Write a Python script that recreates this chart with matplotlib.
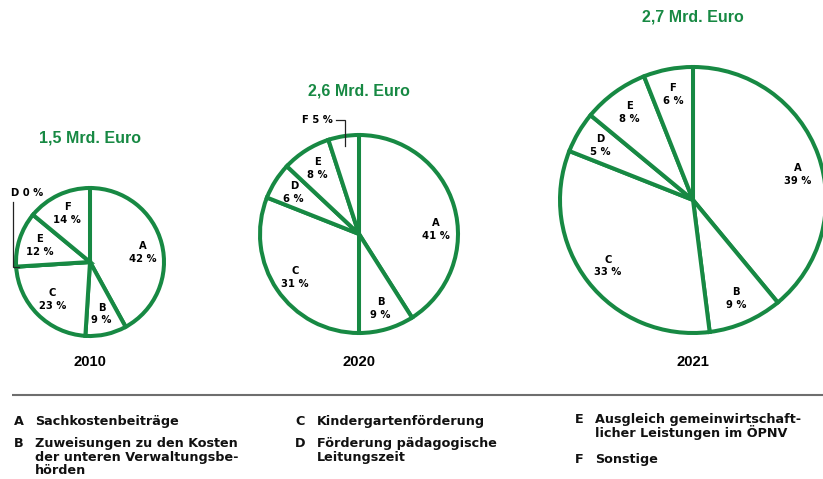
import numpy as np
import matplotlib
matplotlib.use("Agg")
import matplotlib.pyplot as plt

# ---------------- data ----------------
categories = ["A", "B", "C", "D", "E", "F"]
years = ["2010", "2020", "2021"]
totals = ["1,5 Mrd. Euro", "2,6 Mrd. Euro", "2,7 Mrd. Euro"]
shares_2010 = [42, 9, 23, 0, 12, 14]
shares_2020 = [41, 9, 31, 6, 8, 5]
shares_2021 = [39, 9, 33, 5, 8, 6]
legend_labels = [
    "Sachkostenbeiträge",
    "Zuweisungen zu den Kosten\nder unteren Verwaltungsbe-\nhörden",
    "Kindergartenförderung",
    "Förderung pädagogische\nLeitungszeit",
    "Ausgleich gemeinwirtschaft-\nlicher Leistungen im ÖPNV",
    "Sonstige",
]

# ---------------- style / layout ----------------
W, H = 823, 479
GREEN = "#178943"
def Y(py):
    return H - py

pies = [
    dict(vals=shares_2010, cx=90, cy=262, r=74, ldist=0.72, outside={"D"}),
    dict(vals=shares_2020, cx=359, cy=234, r=99, ldist=0.78, outside={"F"}),
    dict(vals=shares_2021, cx=693, cy=200, r=133, ldist=0.81, outside=set()),
]
title_y = [138, 91, 17]
year_y = 362
angle_adj = {(0, "A"): -4, (1, "A"): -13, (2, "A"): -6}

fig = plt.figure(figsize=(W / 100, H / 100), dpi=100)
ax = fig.add_axes([0, 0, 1, 1])

lab_font = dict(family="DejaVu Sans", weight="bold", size=7.2)
for i, p in enumerate(pies):
    wedges, _ = ax.pie(p["vals"], radius=p["r"], center=(p["cx"], Y(p["cy"])),
                       startangle=90, counterclock=False,
                       wedgeprops=dict(facecolor="white", edgecolor=GREEN,
                                       linewidth=2.9, joinstyle="miter"))
    for cat, v, w in zip(categories, p["vals"], wedges):
        mid = 0.5 * (w.theta1 + w.theta2)
        if cat in p["outside"]:
            continue
        mid += angle_adj.get((i, cat), 0)
        a = np.deg2rad(mid)
        x = p["cx"] + p["ldist"] * p["r"] * np.cos(a)
        y = Y(p["cy"]) + p["ldist"] * p["r"] * np.sin(a)
        ax.text(x, y, f"{cat}\n{v} %", ha="center", va="center",
                linespacing=1.35, **lab_font)
    # leader annotations
    for cat, v, w in zip(categories, p["vals"], wedges):
        if cat not in p["outside"]:
            continue
        mid = np.deg2rad(0.5 * (w.theta1 + w.theta2))
        if i == 0:
            ex = p["cx"] + p["r"] * np.cos(mid)
            ey = Y(p["cy"]) + p["r"] * np.sin(mid)
            ax.plot([13, 13, ex + 3], [Y(202), ey, ey], color="#222222", lw=0.9,
                    solid_joinstyle="miter")
            ax.text(11, Y(193), f"{cat} {v} %", ha="left", va="center", **lab_font)
        else:
            ex = p["cx"] + 0.9 * p["r"] * np.cos(mid)
            ey = Y(p["cy"]) + 0.9 * p["r"] * np.sin(mid)
            ax.plot([336, ex, ex], [Y(120), Y(120), ey], color="#222222", lw=0.9,
                    solid_joinstyle="miter")
            ax.text(333, Y(120), f"{cat} {v} %", ha="right", va="center", **lab_font)
    ax.text(p["cx"], Y(title_y[i]), totals[i], ha="center", va="center",
            color=GREEN, family="Liberation Sans", weight="bold", size=11.5)
    ax.text(p["cx"], Y(year_y), years[i], ha="center", va="center",
            color="black", family="Liberation Sans", weight="bold", size=10.7)

# separator
ax.plot([12, W], [Y(395), Y(395)], color="#6e6e6e", lw=1.5, solid_capstyle="butt")

# legend
leg_font = dict(family="DejaVu Sans", weight="bold", size=9.2, color="#111111")
col_x = [(14, 35), (295, 317), (575, 595)]
entry_y = [425, 447, 425, 447, 423, 463]
for k, (cat, lab) in enumerate(zip(categories, legend_labels)):
    lx, tx = col_x[k // 2]
    by = entry_y[k]
    ax.text(lx, Y(by), cat, ha="left", va="baseline", **leg_font)
    for j, line in enumerate(lab.split("\n")):
        ax.text(tx, Y(by + 13.5 * j), line, ha="left", va="baseline", **leg_font)

ax.set_xlim(0, W)
ax.set_ylim(0, H)
ax.set_aspect("auto")
ax.axis("off")
fig.savefig("out.png", dpi=100)
